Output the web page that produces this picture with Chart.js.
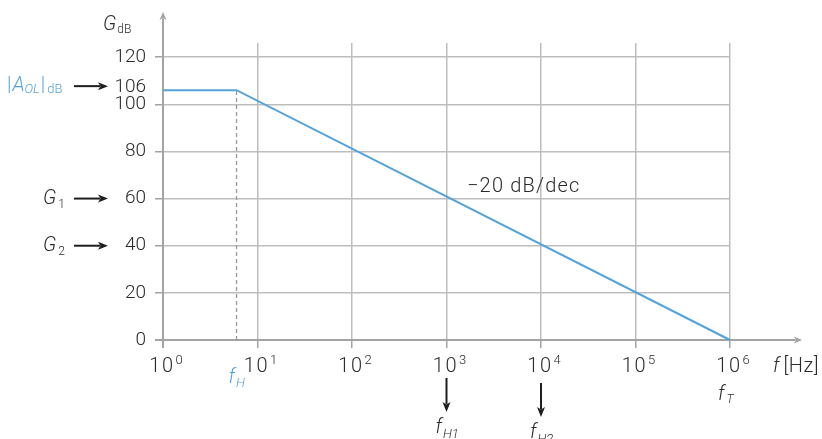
<!DOCTYPE html>
<html>
<head>
<meta charset="utf-8">
<script src="https://cdn.jsdelivr.net/npm/chart.js@4.4.1/dist/chart.umd.min.js"></script>
<style>
  body { margin: 0; background: #fff; }
  #wrap { width: 822px; height: 439px; }
</style>
</head>
<body>
<div id="wrap"><canvas id="bode" width="822" height="439"></canvas></div>
<script>
// values
const freqHz = [1, 6, 1e6];
const gainDb = [106, 106, 0];
const fH = 6;
const aolDb = 106;
const decades = [1, 10, 100, 1e3, 1e4, 1e5, 1e6];
const decadeExp = ['0', '1', '2', '3', '4', '5', '6'];
const yTicks = [0, 20, 40, 60, 80, 100, 120];
const leftMarks = [{ sym: 'G', sub: '1', db: 60 }, { sym: 'G', sub: '2', db: 40 }];
const downMarks = [{ f: 1e3, sub: 'H1', drop: 0 }, { f: 1e4, sub: 'H2', drop: 5 }];
const slopeText = '\u221220 dB/dec';

const FONT = '"Helvetica Neue", Roboto, "Liberation Sans", Arial, sans-serif';
const BLUE = '#55a2db';
const TEXT = '#2b2b2b';
const AXIS = '#a3a3a3';
const GRID = '#bdbdbd';

function font(size, italic) {
  return (italic ? 'italic ' : '') + '300 ' + size + 'px ' + FONT;
}

// draw a run of text pieces (base / sub / superscript) starting at x
function rich(ctx, x, y, parts, color, align) {
  const widthOf = p => {
    ctx.font = font(p.size, p.italic);
    ctx.letterSpacing = (p.ls || 0) + 'px';
    return ctx.measureText(p.t).width + (p.gap || 0);
  };
  let w = 0;
  parts.forEach(p => { w += widthOf(p); });
  if (align === 'center') x -= w / 2;
  if (align === 'right') x -= w;
  ctx.fillStyle = color;
  ctx.textAlign = 'left';
  ctx.textBaseline = 'alphabetic';
  parts.forEach(p => {
    const pw = widthOf(p);
    ctx.fillText(p.t, x, y + (p.dy || 0));
    x += pw;
  });
  ctx.letterSpacing = '0px';
}

function arrow(ctx, x1, y1, x2, y2, color, head, wide, lw) {
  const a = Math.atan2(y2 - y1, x2 - x1);
  ctx.strokeStyle = color; ctx.fillStyle = color; ctx.lineWidth = lw;
  ctx.beginPath();
  ctx.moveTo(x1, y1);
  ctx.lineTo(x2 - Math.cos(a) * head * 0.8, y2 - Math.sin(a) * head * 0.8);
  ctx.stroke();
  ctx.beginPath();
  ctx.moveTo(x2, y2);
  ctx.lineTo(x2 - Math.cos(a) * head - Math.sin(a) * wide, y2 - Math.sin(a) * head + Math.cos(a) * wide);
  ctx.lineTo(x2 - Math.cos(a) * head * 0.75, y2 - Math.sin(a) * head * 0.75);
  ctx.lineTo(x2 - Math.cos(a) * head + Math.sin(a) * wide, y2 - Math.sin(a) * head - Math.cos(a) * wide);
  ctx.closePath();
  ctx.fill();
}

const decor = {
  id: 'decor',
  beforeDatasetsDraw(chart) {
    const { ctx, scales: { x, y } } = chart;
    const x0 = x.getPixelForValue(decades[0]);
    const y0 = y.getPixelForValue(0);
    ctx.save();
    // axes with arrow tips
    arrow(ctx, x0, y0 + 8, x0, 12, AXIS, 8, 3.5, 2);
    arrow(ctx, x0 - 8, y0, 802, y0, AXIS, 8, 3.5, 2);
    ctx.restore();
  },
  afterDraw(chart) {
    const { ctx, scales: { x, y } } = chart;
    const y0 = y.getPixelForValue(0);
    ctx.save();

    // decade labels 10^n
    decades.forEach((v, i) => {
      rich(ctx, x.getPixelForValue(v) + 3, y0 + 32, [
        { t: '10', size: 20, ls: 1.5, gap: 1 },
        { t: decadeExp[i], size: 13, dy: -8 }
      ], TEXT, 'center');
    });

    // y axis title
    rich(ctx, 103, 30, [
      { t: 'G', size: 20, italic: true, gap: 1 },
      { t: 'dB', size: 12, dy: 3 }
    ], TEXT);

    // open loop gain marker
    const yA = y.getPixelForValue(aolDb);
    rich(ctx, 7, yA + 1, [
      { t: '|', size: 20, gap: 1 },
      { t: 'A', size: 20, italic: true },
      { t: 'OL', size: 13, italic: true, dy: 2, gap: 1 },
      { t: '|', size: 20, gap: 2 },
      { t: 'dB', size: 13, dy: 2 }
    ], BLUE);
    arrow(ctx, 74, yA - 4, 108, yA - 4, '#1e1e1e', 10, 4, 2);
    rich(ctx, 146, yA + 2, [{ t: String(aolDb), size: 19 }], TEXT, 'right');

    // G1 / G2 markers
    leftMarks.forEach(m => {
      const py = y.getPixelForValue(m.db);
      rich(ctx, 43, py + 5, [
        { t: m.sym, size: 20, italic: true, gap: 2 },
        { t: m.sub, size: 12, dy: 4 }
      ], TEXT);
      arrow(ctx, 74, py, 108, py, '#1e1e1e', 10, 4, 2);
    });

    // f_H under the break point
    rich(ctx, x.getPixelForValue(fH) - 8, y0 + 43, [
      { t: 'f', size: 20, italic: true, gap: 1 },
      { t: 'H', size: 13, italic: true, dy: 4 }
    ], BLUE);

    // f [Hz]
    rich(ctx, 773, y0 + 32, [
      { t: 'f', size: 20, italic: true, gap: 4 },
      { t: '[Hz]', size: 20, ls: 0.5 }
    ], TEXT);

    // f_T
    const xT = x.getPixelForValue(decades[decades.length - 1]);
    rich(ctx, xT - 12, y0 + 60, [
      { t: 'f', size: 20, italic: true, gap: 2 },
      { t: 'T', size: 12, italic: true, dy: 3 }
    ], TEXT);

    // f_H1, f_H2 with down arrows
    downMarks.forEach(m => {
      const px = x.getPixelForValue(m.f);
      arrow(ctx, px, y0 + 38 + m.drop, px, y0 + 72 + m.drop, '#1e1e1e', 10, 4, 2);
      rich(ctx, px - 11, y0 + 93 + m.drop, [
        { t: 'f', size: 20, italic: true, gap: 1 },
        { t: m.sub, size: 13, italic: true, dy: 5 }
      ], TEXT);
    });

    // slope label
    rich(ctx, 467, 192, [{ t: slopeText, size: 20, ls: 1.2 }], TEXT);
    ctx.restore();
  }
};

new Chart(document.getElementById('bode'), {
  type: 'line',
  data: {
    datasets: [
      {
        data: [{ x: fH, y: 0 }, { x: fH, y: aolDb }],
        borderColor: '#999999',
        borderWidth: 1.3,
        borderDash: [4, 3],
        pointRadius: 0,
        clip: false
      },
      {
        data: freqHz.map((f, i) => ({ x: f, y: gainDb[i] })),
        borderColor: BLUE,
        borderWidth: 2,
        pointRadius: 0,
        tension: 0,
        clip: false
      }
    ]
  },
  options: {
    responsive: false,
    animation: false,
    layout: { padding: { left: 103, right: 92, top: 43, bottom: 79 } },
    plugins: { legend: { display: false }, tooltip: { enabled: false } },
    scales: {
      x: {
        type: 'logarithmic',
        min: 1,
        max: 1e6,
        afterBuildTicks: s => { s.ticks = decades.map(v => ({ value: v })); },
        afterFit: s => { s.height = 20; },
        ticks: { display: false },
        grid: {
          color: c => (c.tick && c.tick.value === 1) ? 'rgba(0,0,0,0)' : GRID,
          lineWidth: 1.5,
          tickColor: AXIS,
          tickLength: 8
        },
        border: { display: false }
      },
      y: {
        min: 0,
        max: 126,
        afterBuildTicks: s => { s.ticks = yTicks.map(v => ({ value: v })); },
        afterFit: s => { s.width = 60; },
        ticks: {
          color: TEXT,
          padding: 9,
          font: { family: FONT, size: 19, weight: '300' }
        },
        grid: {
          color: c => (c.tick && c.tick.value === 0) ? 'rgba(0,0,0,0)' : GRID,
          lineWidth: 1.5,
          tickColor: AXIS,
          tickLength: 8
        },
        border: { display: false }
      }
    }
  },
  plugins: [decor]
});
</script>
</body>
</html>
